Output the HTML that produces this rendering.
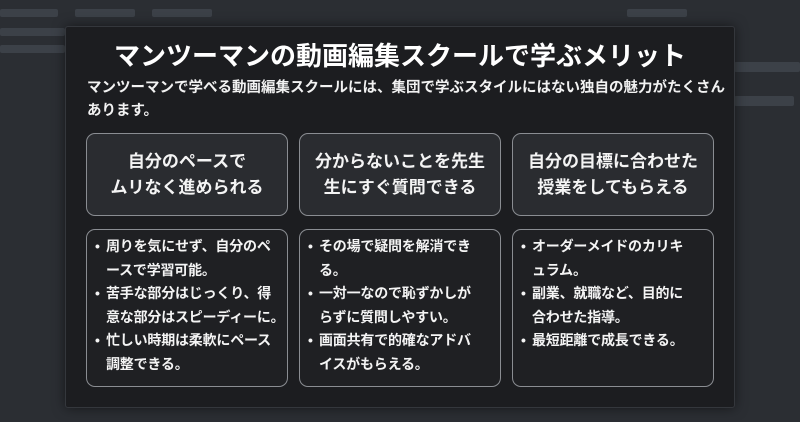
<!DOCTYPE html>
<html><head><meta charset="utf-8"><style>
body{margin:0;width:800px;height:422px;overflow:hidden;background:#2b2e33;font-family:"Liberation Sans","Noto Sans CJK JP",sans-serif;position:relative}
.bar{position:absolute;background:#3c4148;border-radius:2px}
.panel{position:absolute;left:65px;top:26px;width:668px;height:380px;background:#1c1d20;border:1px solid #34373c;border-radius:3px;box-shadow:0 0 12px rgba(0,0,0,.5)}
.title{position:absolute;left:0;width:100%;top:12px;text-align:center;color:#fff;font-weight:bold;font-size:26px;line-height:34px}
.sub{position:absolute;left:21px;top:50px;width:640px;color:#f2f2f2;font-weight:bold;font-size:14.5px;line-height:23px}
.box{position:absolute;border:1.5px solid #8a8d92;border-radius:9px;background:#2a2c30;color:#f4f4f4;font-weight:bold;box-sizing:border-box}
.h{height:83px;top:106px;font-size:17px;line-height:26px;text-align:center;display:flex;align-items:center;justify-content:center}
.b{height:158px;top:202px;background:#1f2023;font-size:14px;line-height:23.5px;padding:5px 0 0 8px;white-space:nowrap;letter-spacing:-0.2px}
.b div{position:relative;padding-left:11px}
.b div:before{content:"•";position:absolute;left:0;top:0}
</style></head><body>
<div class="bar" style="left:0;top:9px;width:58px;height:8px"></div>
<div class="bar" style="left:75px;top:9px;width:60px;height:8px"></div>
<div class="bar" style="left:152px;top:9px;width:60px;height:8px"></div>
<div class="bar" style="left:0;top:28px;width:65px;height:8px"></div>
<div class="bar" style="left:0;top:45px;width:65px;height:8px"></div>
<div class="bar" style="left:627px;top:9px;width:60px;height:8px"></div>
<div class="bar" style="left:734px;top:62px;width:66px;height:10px"></div>
<div class="bar" style="left:734px;top:96px;width:60px;height:10px"></div>
<div class="panel">
<div class="title">マンツーマンの動画編集スクールで学ぶメリット</div>
<div class="sub">マンツーマンで学べる動画編集スクールには、集団で学ぶスタイルにはない独自の魅力がたくさんあります。</div>
<div class="box h" style="left:20px;width:202px">自分のペースで<br>ムリなく進められる</div>
<div class="box h" style="left:233px;width:202px">分からないことを先生<br>生にすぐ質問できる</div>
<div class="box h" style="left:446px;width:202px">自分の目標に合わせた<br>授業をしてもらえる</div>
<div class="box b" style="left:20px;width:202px"><div>周りを気にせず、自分のペ<br>ースで学習可能。</div><div>苦手な部分はじっくり、得<br>意な部分はスピーディーに。</div><div>忙しい時期は柔軟にペース<br>調整できる。</div></div>
<div class="box b" style="left:233px;width:202px"><div>その場で疑問を解消でき<br>る。</div><div>一対一なので恥ずかしが<br>らずに質問しやすい。</div><div>画面共有で的確なアドバ<br>イスがもらえる。</div></div>
<div class="box b" style="left:446px;width:202px"><div>オーダーメイドのカリキ<br>ュラム。</div><div>副業、就職など、目的に<br>合わせた指導。</div><div>最短距離で成長できる。</div></div>
</div>
</body></html>
